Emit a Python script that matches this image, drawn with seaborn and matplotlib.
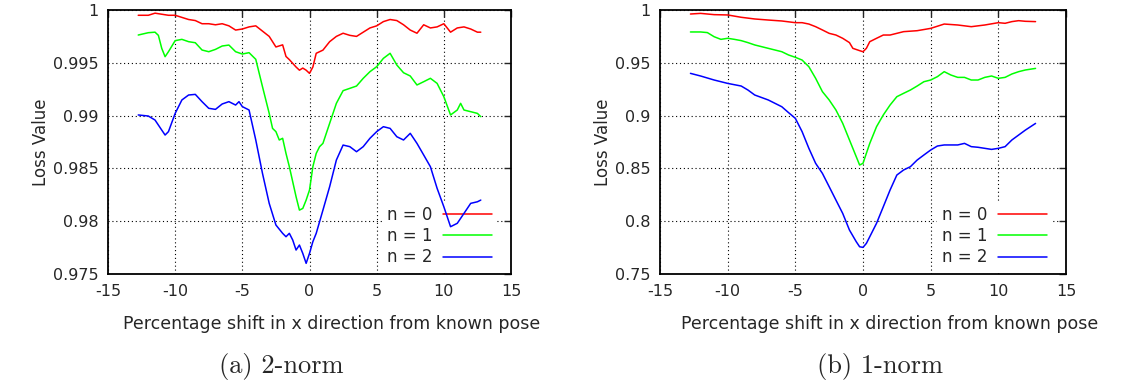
import numpy as np
import pandas as pd
import matplotlib
matplotlib.use("Agg")
import matplotlib.pyplot as plt
import seaborn as sns
from matplotlib.ticker import FormatStrFormatter, MultipleLocator

# -----------------------------------
# Data (shift %, loss value)
# -----------------------------------
# (a) 2-norm
x2_n0 = [-12.75, -12, -11.5, -11, -10.5, -10, -9.5, -9, -8.5, -8, -7.5, -7, -6.5, -6, -5.5, -5,
         -4.5, -4, -3.5, -3, -2.5, -2, -1.75, -1.5, -1, -0.75, -0.5, -0.25, 0, 0.25, 0.5, 1,
         1.5, 2, 2.5, 3, 3.5, 4, 4.5, 5, 5.5, 6, 6.5, 7, 7.5, 8, 8.5, 9, 9.5, 10, 10.5, 11,
         11.5, 12, 12.5, 12.75]
y2_n0 = [0.9995, 0.9995, 0.9997, 0.9996, 0.9995, 0.9995, 0.9993, 0.9991, 0.9990, 0.9987, 0.9987,
         0.9986, 0.9987, 0.9985, 0.9981, 0.9982, 0.9984, 0.9985, 0.9980, 0.9975, 0.9965, 0.9967,
         0.9956, 0.9953, 0.9946, 0.9943, 0.9945, 0.9943, 0.9940, 0.9946, 0.9959, 0.9962, 0.9970,
         0.9975, 0.9978, 0.9976, 0.9975, 0.9979, 0.9983, 0.9985, 0.9989, 0.9991, 0.9990, 0.9986,
         0.9981, 0.9978, 0.9986, 0.9983, 0.9984, 0.9987, 0.9979, 0.9983, 0.9984, 0.9982, 0.9979,
         0.9979]

x2_n1 = [-12.75, -12, -11.5, -11.25, -11, -10.75, -10.5, -10, -9.5, -9, -8.5, -8, -7.5, -7, -6.5,
         -6, -5.5, -5, -4.5, -4, -3.5, -3, -2.75, -2.5, -2.25, -2, -1.75, -1.5, -1.25, -1, -0.75,
         -0.5, -0.25, 0, 0.25, 0.5, 0.75, 1, 1.5, 2, 2.5, 3, 3.5, 4, 4.5, 5, 5.5, 6, 6.5, 7, 7.5,
         8, 8.5, 9, 9.5, 10, 10.5, 11, 11.25, 11.5, 12, 12.5, 12.75]
y2_n1 = [0.99763, 0.99785, 0.99790, 0.99760, 0.99637, 0.99558, 0.99605, 0.99710, 0.99722, 0.99700,
         0.99690, 0.99621, 0.99605, 0.99627, 0.99659, 0.99668, 0.99605, 0.99583, 0.99596, 0.99533,
         0.99274, 0.99021, 0.98879, 0.98848, 0.98769, 0.98785, 0.98642, 0.98516, 0.98374, 0.98232,
         0.98105, 0.98121, 0.98200, 0.98295, 0.98516, 0.98642, 0.98706, 0.98737, 0.98927, 0.99116,
         0.99236, 0.99258, 0.99280, 0.99353, 0.99416, 0.99463, 0.99542, 0.99590, 0.99479, 0.99406,
         0.99375, 0.99290, 0.99321, 0.99353, 0.99305, 0.99179, 0.99006, 0.99053, 0.99116, 0.99053,
         0.99037, 0.99021, 0.98990]

x2_n2 = [-12.75, -12, -11.5, -11, -10.75, -10.5, -10, -9.5, -9, -8.5, -8, -7.5, -7, -6.5, -6, -5.5,
         -5.25, -5, -4.5, -4, -3.5, -3, -2.5, -2, -1.75, -1.5, -1.25, -1, -0.75, -0.5, -0.25, 0,
         0.25, 0.5, 1, 1.5, 2, 2.5, 3, 3.5, 4, 4.5, 5, 5.5, 6, 6.5, 7, 7.5, 8, 8.5, 9, 9.5, 10,
         10.5, 11, 11.5, 12, 12.5, 12.75]
y2_n2 = [0.99006, 0.98996, 0.98958, 0.98863, 0.98816, 0.98848, 0.99021, 0.99148, 0.99195, 0.99201,
         0.99132, 0.99069, 0.99059, 0.99110, 0.99132, 0.99100, 0.99132, 0.99085, 0.99053, 0.98769,
         0.98453, 0.98169, 0.97964, 0.97885, 0.97853, 0.97885, 0.97822, 0.97727, 0.97774, 0.97695,
         0.97601, 0.97695, 0.97806, 0.97885, 0.98105, 0.98327, 0.98579, 0.98721, 0.98706, 0.98658,
         0.98706, 0.98785, 0.98848, 0.98895, 0.98879, 0.98800, 0.98769, 0.98832, 0.98737, 0.98627,
         0.98516, 0.98311, 0.98137, 0.97948, 0.97980, 0.98074, 0.98169, 0.98184, 0.98200]

# (b) 1-norm
x1_n0 = [-12.75, -12, -11, -10, -9, -8, -7, -6, -5, -4.5, -4, -3.5, -3, -2.5, -2, -1.5, -1, -0.75,
         -0.25, 0, 0.25, 0.5, 1, 1.5, 2, 2.5, 3, 4, 5, 6, 7, 8, 9, 10, 10.5, 11, 11.5, 12, 12.75]
y1_n0 = [0.9962, 0.9968, 0.9956, 0.9953, 0.9931, 0.9915, 0.9905, 0.9896, 0.9880, 0.9880, 0.9867,
         0.9842, 0.9811, 0.9779, 0.9763, 0.9732, 0.9691, 0.9637, 0.9615, 0.9605, 0.9637, 0.9700,
         0.9732, 0.9763, 0.9763, 0.9779, 0.9795, 0.9804, 0.9826, 0.9867, 0.9858, 0.9842, 0.9858,
         0.9880, 0.9874, 0.9890, 0.9899, 0.9893, 0.9890]

x1_n1 = [-12.75, -12, -11.5, -11, -10.5, -10, -9.5, -9, -8.5, -8, -7, -6, -5.5, -5, -4.5, -4, -3.5,
         -3, -2.5, -2, -1.5, -1, -0.5, -0.25, 0, 0.25, 0.5, 1, 1.5, 2, 2.5, 3, 3.5, 4, 4.5, 5,
         5.5, 6, 6.5, 7, 7.5, 8, 8.5, 9, 9.5, 10, 10.5, 11, 11.5, 12, 12.75]
y1_n1 = [0.9792, 0.9792, 0.9786, 0.9747, 0.9722, 0.9732, 0.9722, 0.9710, 0.9691, 0.9669, 0.9637,
         0.9605, 0.9574, 0.9552, 0.9526, 0.9463, 0.9353, 0.9227, 0.9148, 0.9053, 0.8927, 0.8769,
         0.8611, 0.8532, 0.8548, 0.8643, 0.8737, 0.8895, 0.9006, 0.9100, 0.9179, 0.9211, 0.9242,
         0.9280, 0.9321, 0.9337, 0.9369, 0.9416, 0.9384, 0.9362, 0.9362, 0.9337, 0.9337, 0.9362,
         0.9375, 0.9353, 0.9362, 0.9394, 0.9416, 0.9432, 0.9447]

x1_n2 = [-12.75, -12, -11, -10, -9, -8.5, -8, -7, -6, -5.5, -5, -4.5, -4, -3.5, -3, -2.5, -2, -1.5,
         -1, -0.5, -0.25, 0, 0.25, 0.5, 1, 1.5, 2, 2.5, 3, 3.5, 4, 4.5, 5, 5.5, 6, 7, 7.5, 8,
         8.5, 9, 9.5, 10, 10.5, 11, 11.5, 12, 12.75]
y1_n2 = [0.9400, 0.9375, 0.9337, 0.9305, 0.9280, 0.9242, 0.9195, 0.9148, 0.9084, 0.9028, 0.8974,
         0.8848, 0.8690, 0.8548, 0.8453, 0.8327, 0.8200, 0.8074, 0.7916, 0.7806, 0.7758, 0.7752,
         0.7790, 0.7853, 0.7980, 0.8137, 0.8295, 0.8437, 0.8485, 0.8516, 0.8579, 0.8627, 0.8674,
         0.8712, 0.8722, 0.8722, 0.8737, 0.8706, 0.8700, 0.8690, 0.8680, 0.8690, 0.8706, 0.8769,
         0.8816, 0.8863, 0.8926]

series_names = ["n = 0", "n = 1", "n = 2"]
series_colors = ["#ff0000", "#00ff00", "#0000ff"]
x_ticks = [-15, -10, -5, 0, 5, 10, 15]
captions = ["(a) 2-norm", "(b) 1-norm"]


def to_long(xs, ys):
    frames = []
    for name, x, y in zip(series_names, xs, ys):
        frames.append(pd.DataFrame({"shift": x, "loss": y, "series": name}))
    return pd.concat(frames, ignore_index=True)


df_2norm = to_long([x2_n0, x2_n1, x2_n2], [y2_n0, y2_n1, y2_n2])
df_1norm = to_long([x1_n0, x1_n1, x1_n2], [y1_n0, y1_n1, y1_n2])

# -----------------------------------
# Style
# -----------------------------------
sns.set_style("white")
plt.rcParams["font.family"] = ["DejaVu Sans"]
plt.rcParams["axes.unicode_minus"] = False


def draw_panel(ax, df, ylim, ystep, fmt, xlabel_x):
    sns.lineplot(data=df, x="shift", y="loss", hue="series", palette=series_colors,
                 linewidth=1.1, ax=ax, sort=False, estimator=None, zorder=3)
    ax.set_xlim(-15, 15)
    ax.set_ylim(*ylim)
    ax.set_xticks(x_ticks)
    ax.yaxis.set_major_locator(MultipleLocator(ystep))
    ax.yaxis.set_major_formatter(FormatStrFormatter(fmt))
    ax.grid(True, linestyle=(0, (1, 2.5)), color="black", linewidth=0.8)
    ax.tick_params(direction="in", length=5, width=1, top=True, right=True,
                   labelsize=11.5, pad=7)
    for sp in ax.spines.values():
        sp.set_linewidth(1.3)
        sp.set_color("black")
        sp.set_zorder(4)
    ax.set_xlabel("Percentage shift in x direction from known pose", fontsize=12.5)
    ax.xaxis.set_label_coords(xlabel_x, -0.155)
    ax.set_ylabel("Loss Value", fontsize=12, labelpad=2)
    leg = ax.legend(loc="lower right", markerfirst=False, fontsize=12, frameon=True,
                    handlelength=2.95, handletextpad=0.6, labelspacing=0.2,
                    borderpad=0.3, borderaxespad=0.0, bbox_to_anchor=(0.965, 0.01))
    leg.get_frame().set_facecolor("white")
    leg.get_frame().set_edgecolor("none")
    leg.get_frame().set_alpha(1)
    leg.set_zorder(2.5)


fig = plt.figure(figsize=(11.3, 3.85), dpi=100)
ax_a = fig.add_axes([108 / 1130, 1 - 274 / 385, 403 / 1130, 264 / 385])
ax_b = fig.add_axes([660 / 1130, 1 - 274 / 385, 406 / 1130, 264 / 385])

draw_panel(ax_a, df_2norm, (0.975, 1.0), 0.005, "%g", 0.5 + 22 / 403)
draw_panel(ax_b, df_1norm, (0.75, 1.0), 0.05, "%g", 0.5 + 27 / 406)

fig.text(281 / 1130, 1 - 367 / 385, captions[0], family="cmr10", fontsize=19,
         ha="center", va="center")
fig.text(880 / 1130, 1 - 367 / 385, captions[1], family="cmr10", fontsize=19,
         ha="center", va="center")

fig.savefig("out.png", dpi=100)
